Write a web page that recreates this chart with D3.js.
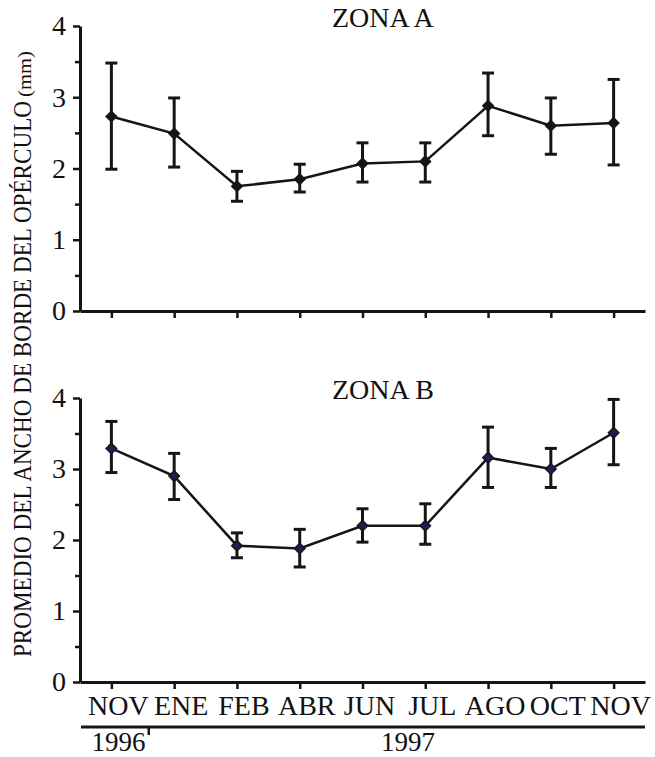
<!DOCTYPE html>
<html>
<head>
<meta charset="utf-8">
<script src="https://cdn.jsdelivr.net/npm/d3@7"></script>
<style>
  body { margin: 0; background: #fff; }
  svg text { font-family: "Liberation Serif", "Times New Roman", serif; fill: #111; }
</style>
</head>
<body>
<svg id="chart" width="655" height="757"></svg>
<script>
// months and years
const months = ["NOV", "ENE", "FEB", "ABR", "JUN", "JUL", "AGO", "OCT", "NOV"];
const yTicks = [0, 0.5, 1, 1.5, 2, 2.5, 3, 3.5, 4];

// Zona A (mean and error bar ends, mm)
const zonaAMean  = [2.73, 2.49, 1.75, 1.85, 2.07, 2.10, 2.88, 2.60, 2.64];
const zonaAUpper = [3.48, 2.99, 1.96, 2.06, 2.36, 2.36, 3.34, 2.99, 3.25];
const zonaALower = [1.99, 2.02, 1.54, 1.67, 1.81, 1.81, 2.46, 2.20, 2.05];

// Zona B
const zonaBMean  = [3.29, 2.90, 1.92, 1.88, 2.20, 2.20, 3.16, 3.00, 3.51];
const zonaBUpper = [3.67, 3.22, 2.10, 2.15, 2.44, 2.51, 3.59, 3.29, 3.98];
const zonaBLower = [2.95, 2.57, 1.75, 1.62, 1.97, 1.94, 2.74, 2.74, 3.06];

const svg = d3.select("#chart");
const ink = "#151515";

const left = 80, right = 645;
const x = d3.scalePoint().domain(d3.range(months.length)).range([left, right]).padding(0.5);

// Function to draw one panel
const drawPanel = (title, mean, upper, lower, top, bottom, markerFill, showLabels) => {
    const y = d3.scaleLinear().domain([0, 4]).range([bottom, top]);
    const g = svg.append("g");

    // y axis
    const yAxis = g.append("g")
        .attr("transform", `translate(${left},0)`)
        .call(d3.axisLeft(y).tickValues(yTicks).tickSize(7).tickSizeOuter(0)
            .tickFormat(d => Number.isInteger(d) ? d : ""));
    yAxis.select(".domain").attr("stroke", ink).attr("stroke-width", 3);
    yAxis.selectAll(".tick line").attr("stroke", ink).attr("stroke-width", 2.5)
        .attr("x2", d => Number.isInteger(d) ? -7 : -5);
    yAxis.selectAll(".tick text").attr("x", -14).attr("font-size", 28).attr("fill", ink);

    // x axis
    const xAxis = g.append("g")
        .attr("transform", `translate(0,${bottom})`)
        .call(d3.axisBottom(x).tickSize(7).tickSizeOuter(0).tickFormat(""));
    xAxis.select(".domain").attr("stroke", ink).attr("stroke-width", 3);
    xAxis.selectAll(".tick line").attr("stroke", ink).attr("stroke-width", 2.5);

    if (showLabels) {
        g.selectAll(".month")
            .data(months)
            .enter()
            .append("text")
            .attr("class", "month")
            .attr("x", (d, i) => x(i) + 7)
            .attr("y", bottom + 33)
            .attr("text-anchor", "middle")
            .attr("font-size", 28)
            .text(d => d);
    }

    // title
    g.append("text")
        .attr("x", (x(4) + x(5)) / 2 - 11)
        .attr("y", top + 1)
        .attr("text-anchor", "middle")
        .attr("font-size", 28)
        .text(title);

    // error bars
    const bars = g.selectAll(".err").data(mean).enter().append("g").attr("class", "err");
    bars.append("line")
        .attr("x1", (d, i) => x(i)).attr("x2", (d, i) => x(i))
        .attr("y1", (d, i) => y(upper[i])).attr("y2", (d, i) => y(lower[i]))
        .attr("stroke", ink).attr("stroke-width", 3);
    bars.append("line")
        .attr("x1", (d, i) => x(i) - 6).attr("x2", (d, i) => x(i) + 6)
        .attr("y1", (d, i) => y(upper[i])).attr("y2", (d, i) => y(upper[i]))
        .attr("stroke", ink).attr("stroke-width", 3);
    bars.append("line")
        .attr("x1", (d, i) => x(i) - 6).attr("x2", (d, i) => x(i) + 6)
        .attr("y1", (d, i) => y(lower[i])).attr("y2", (d, i) => y(lower[i]))
        .attr("stroke", ink).attr("stroke-width", 3);

    // line
    const line = d3.line().x((d, i) => x(i)).y(d => y(d));
    g.append("path")
        .datum(mean)
        .attr("d", line)
        .attr("fill", "none")
        .attr("stroke", ink)
        .attr("stroke-width", 2.5);

    // diamond markers
    g.selectAll(".pt")
        .data(mean)
        .enter()
        .append("path")
        .attr("class", "pt")
        .attr("d", d3.symbol().type(d3.symbolDiamond2).size(70))
        .attr("transform", (d, i) => `translate(${x(i)},${y(d)})`)
        .attr("fill", markerFill)
        .attr("stroke", ink)
        .attr("stroke-width", 1.5);
};

drawPanel("ZONA A", zonaAMean, zonaAUpper, zonaALower, 26, 311, ink, false);
drawPanel("ZONA B", zonaBMean, zonaBUpper, zonaBLower, 398, 682, "#1d1d5c", true);

// year axis
const yearY = 727;
svg.append("line")
    .attr("x1", left + 1).attr("x2", right)
    .attr("y1", yearY).attr("y2", yearY)
    .attr("stroke", ink).attr("stroke-width", 3);
const split = (x(0) + x(1)) / 2 + 6;
svg.append("line")
    .attr("x1", split).attr("x2", split)
    .attr("y1", yearY).attr("y2", yearY + 8)
    .attr("stroke", ink).attr("stroke-width", 2.5);
svg.append("text")
    .attr("x", x(0) + 7).attr("y", 751)
    .attr("text-anchor", "middle").attr("font-size", 27)
    .text("1996");
svg.append("text")
    .attr("x", (x(4) + x(5)) / 2 + 14).attr("y", 751)
    .attr("text-anchor", "middle").attr("font-size", 27)
    .text("1997");

// y axis title
svg.append("text")
    .attr("transform", "translate(31,657) rotate(-90)")
    .attr("font-size", 25)
    .attr("textLength", 556)
    .attr("lengthAdjust", "spacingAndGlyphs")
    .text("PROMEDIO DEL ANCHO DE BORDE DEL OPÉRCULO");
svg.append("text")
    .attr("transform", "translate(31,97) rotate(-90)")
    .attr("font-size", 19)
    .attr("textLength", 46)
    .attr("lengthAdjust", "spacingAndGlyphs")
    .text("(mm)");
</script>
</body>
</html>
